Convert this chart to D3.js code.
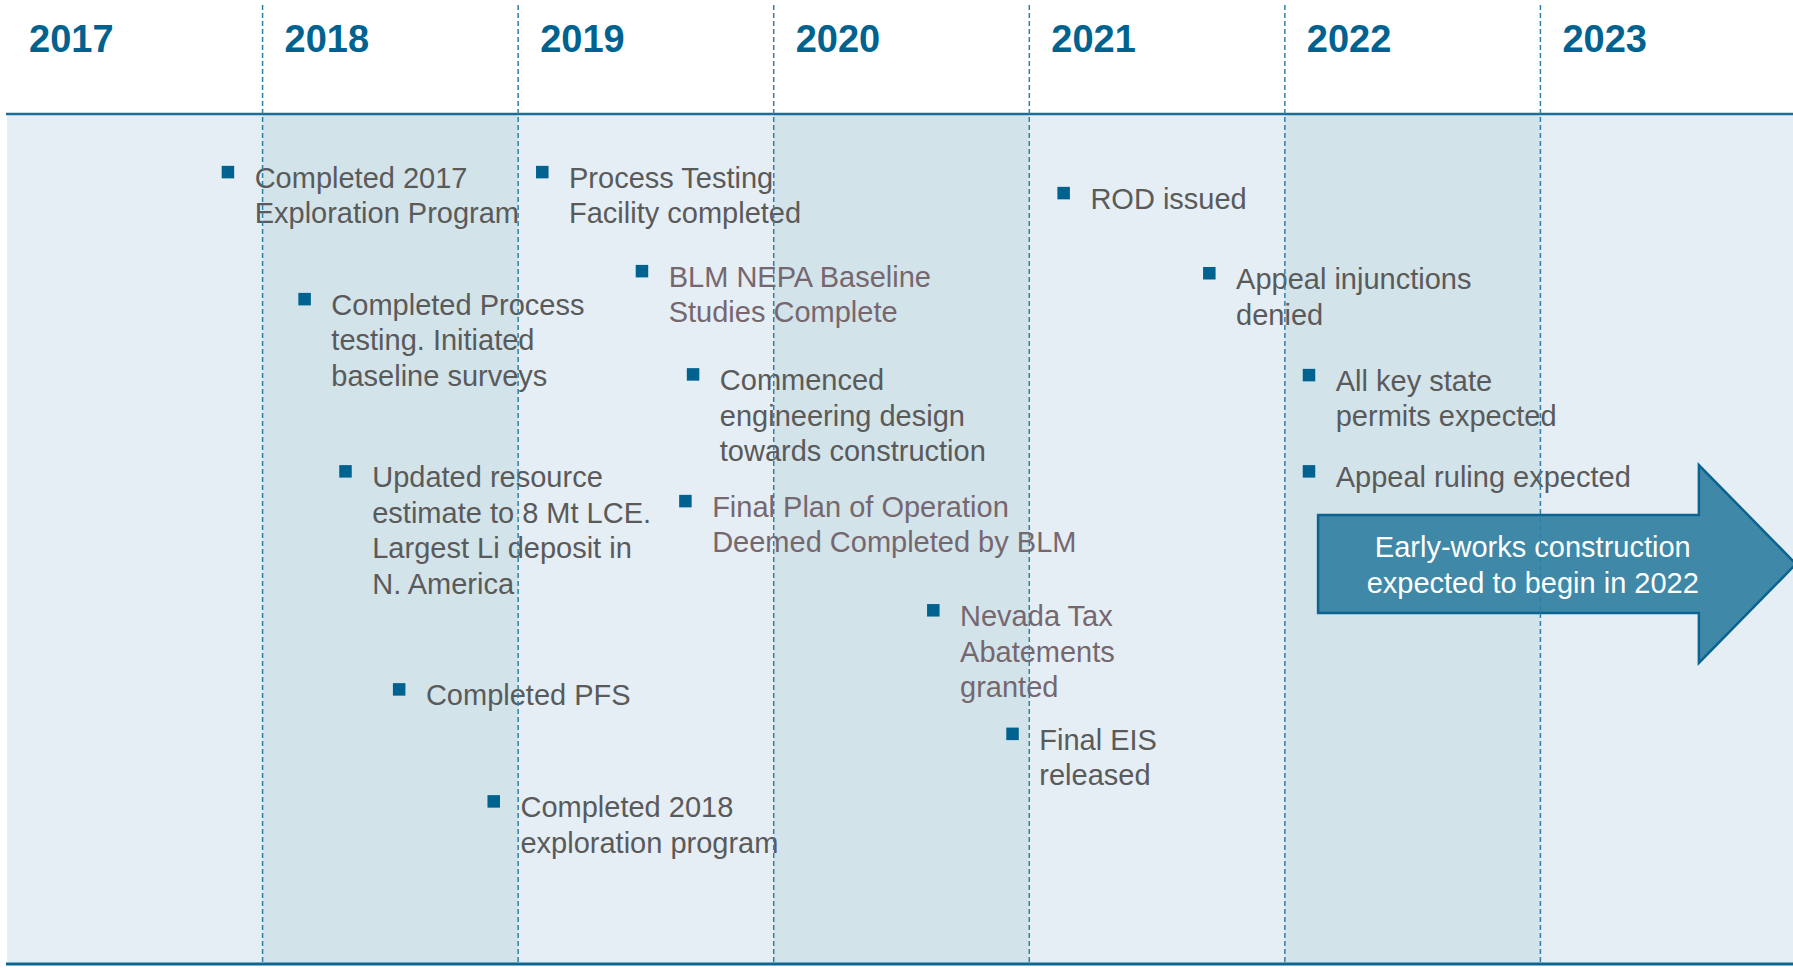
<!DOCTYPE html>
<html>
<head>
<meta charset="utf-8">
<script src="https://cdn.jsdelivr.net/npm/d3@7"></script>
<style>
  body { margin: 0; background: #fff; }
  svg { display: block; font-family: "Liberation Sans", Arial, sans-serif; }
</style>
</head>
<body>
<script>
// years shown as columns
var years = [2017, 2018, 2019, 2020, 2021, 2022, 2023]

// milestones (text lines), date as fractional year, row = vertical slot in text lines
var eventLabels = [
  ["Completed 2017", "Exploration Program"],
  ["Process Testing", "Facility completed"],
  ["ROD issued"],
  ["BLM NEPA Baseline", "Studies Complete"],
  ["Appeal injunctions", "denied"],
  ["Completed Process", "testing. Initiated", "baseline surveys"],
  ["Commenced", "engineering design", "towards construction"],
  ["All key state", "permits expected"],
  ["Updated resource", "estimate to 8 Mt LCE.", "Largest Li deposit in", "N. America"],
  ["Appeal ruling expected"],
  ["Final Plan of Operation", "Deemed Completed by BLM"],
  ["Nevada Tax", "Abatements", "granted"],
  ["Completed PFS"],
  ["Final EIS", "released"],
  ["Completed 2018", "exploration program"]
]
var eventDates = [2017.84, 2019.07, 2021.11, 2019.46, 2021.68, 2018.14, 2019.66, 2022.07,
                  2018.30, 2022.07, 2019.63, 2020.60, 2018.51, 2020.91, 2018.88]
var eventRows = [2.11, 2.11, 2.71, 4.94, 5.00, 5.74, 7.89, 7.91,
                 10.66, 10.66, 11.51, 14.63, 16.89, 18.16, 20.09]
// 0 = normal milestone, 1 = BLM / state item (muted text)
var eventKind = [0, 0, 0, 1, 0, 0, 0, 0, 0, 0, 1, 1, 0, 0, 0]

// construction arrow
var arrowLabel = ["Early-works construction", "expected to begin in 2022"]
var arrowStart = 2022.13
var arrowHeadStart = 2023.62

var width = 1793, height = 968
var bandTop = 114, bandBottom = 964

var svg = d3.select("body").append("svg")
  .attr("width", width)
  .attr("height", height)

var x = d3.scaleLinear()
  .domain([2017, 2024])
  .range([7, 1796])

// rows -> text baseline
var y = d3.scaleLinear()
  .domain([0, 1])
  .range([bandTop, bandTop + 35])

var bandColor = d3.scaleOrdinal().domain([0, 1]).range(["#e5eef4", "#d2e3ea"])
var textColor = d3.scaleOrdinal().domain([0, 1]).range(["#5a5a5a", "#76676f"])

var events = eventLabels.map(function (lab, i) {
  return { lines: lab, date: eventDates[i], row: eventRows[i], kind: eventKind[i] }
})

// alternating year bands
svg.append("g")
  .selectAll("rect")
  .data(years)
  .enter()
  .append("rect")
  .attr("x", d => x(d))
  .attr("y", bandTop)
  .attr("width", d => x(d + 1) - x(d))
  .attr("height", bandBottom - bandTop)
  .attr("fill", (d, i) => bandColor(i % 2))

// year labels
svg.append("g")
  .selectAll("text")
  .data(years)
  .enter()
  .append("text")
  .attr("x", d => x(d) + 22)
  .attr("y", 52)
  .attr("font-size", 38)
  .attr("font-weight", "bold")
  .attr("fill", "#00628f")
  .text(d => d)

// top and bottom rules
svg.append("line")
  .attr("x1", 6).attr("x2", width)
  .attr("y1", bandTop).attr("y2", bandTop)
  .attr("stroke", "#1d6c95").attr("stroke-width", 2.5)
svg.append("line")
  .attr("x1", 6).attr("x2", width)
  .attr("y1", bandBottom).attr("y2", bandBottom)
  .attr("stroke", "#0d6691").attr("stroke-width", 3)

// milestones
var ev = svg.append("g")
  .selectAll("g")
  .data(events)
  .enter()
  .append("g")

ev.append("rect")
  .attr("x", d => x(d.date))
  .attr("y", d => y(d.row) - 22)
  .attr("width", 12.5)
  .attr("height", 12.5)
  .attr("fill", "#00628f")

ev.append("text")
  .attr("font-size", 29)
  .attr("fill", d => textColor(d.kind))
  .each(function (d) {
    var t = d3.select(this)
    d.lines.forEach(function (ln, j) {
      t.append("tspan")
        .attr("x", x(d.date) + 33)
        .attr("y", y(d.row) + j * 35.5)
        .text(ln)
    })
  })

// arrow
var ax0 = x(arrowStart), axh = x(arrowHeadStart), axt = x(2024)
var acy = 564, bodyH = 49, headH = 99
svg.append("path")
  .attr("d", "M" + ax0 + "," + (acy - bodyH) +
    "L" + axh + "," + (acy - bodyH) +
    "L" + axh + "," + (acy - headH) +
    "L" + axt + "," + acy +
    "L" + axh + "," + (acy + headH) +
    "L" + axh + "," + (acy + bodyH) +
    "L" + ax0 + "," + (acy + bodyH) + "Z")
  .attr("fill", "#3f88a8")
  .attr("stroke", "#0b6390")
  .attr("stroke-width", 2.5)

svg.append("text")
  .attr("text-anchor", "middle")
  .attr("font-size", 29)
  .attr("fill", "#fff")
  .selectAll("tspan")
  .data(arrowLabel)
  .enter()
  .append("tspan")
  .attr("x", (ax0 + (axh + axt) / 2) / 2)
  .attr("y", (d, i) => 557 + i * 36)
  .text(d => d)

// dashed year dividers, drawn on top
svg.append("g")
  .selectAll("line")
  .data(years.slice(1))
  .enter()
  .append("line")
  .attr("x1", d => x(d)).attr("x2", d => x(d))
  .attr("y1", 5).attr("y2", bandBottom)
  .attr("stroke", "#2f80a7")
  .attr("stroke-width", 1.5)
  .attr("stroke-dasharray", "5,3")
</script>
</body>
</html>
